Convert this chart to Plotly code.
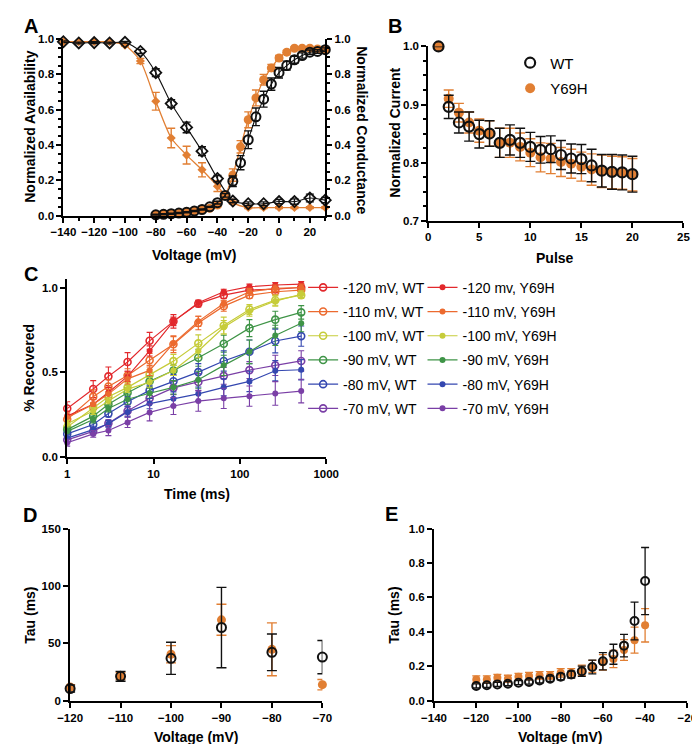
import plotly.graph_objects as go

W, H = 700, 744
FONT = "Arial, Liberation Sans, sans-serif"
ORANGE = "#E17F33"
BLACK = "#111111"

def px(x):
    return x / W

def py(y):
    return 1 - y / H

# ---------------- Panel A data ----------------
avail_v = [-140, -130, -120, -110, -100, -90, -80, -70, -60, -50, -40, -30, -20, -10, 0, 10, 20, 30]
avail_wt = [0.985, 0.978, 0.98, 0.978, 0.982, 0.93, 0.81, 0.635, 0.50, 0.365, 0.21, 0.083, 0.068, 0.068, 0.08, 0.08, 0.10, 0.088]
avail_wt_err = [0.005, 0.005, 0.005, 0.005, 0.005, 0.012, 0.022, 0.022, 0.03, 0.025, 0.018, 0.01, 0.01, 0.01, 0.012, 0.015, 0.022, 0.015]
avail_y = [0.985, 0.985, 0.985, 0.985, 0.965, 0.876, 0.648, 0.44, 0.343, 0.26, 0.167, 0.074, 0.046, 0.046, 0.046, 0.046, 0.046, 0.046]
avail_y_err = [0.003, 0.003, 0.003, 0.003, 0.005, 0.015, 0.05, 0.055, 0.05, 0.04, 0.03, 0.008, 0.005, 0.005, 0.005, 0.005, 0.005, 0.005]

cond_v = [-80, -75, -70, -65, -60, -55, -50, -45, -40, -35, -30, -25, -20, -15, -10, -5, 0, 5, 10, 15, 20, 25, 30]
cond_wt = [0.005, 0.008, 0.011, 0.015, 0.02, 0.026, 0.035, 0.05, 0.074, 0.115, 0.195, 0.30, 0.43, 0.56, 0.66, 0.745, 0.81, 0.85, 0.883, 0.907, 0.926, 0.93, 0.94]
cond_wt_err = [0.003, 0.003, 0.003, 0.003, 0.003, 0.003, 0.003, 0.003, 0.008, 0.01, 0.03, 0.04, 0.05, 0.05, 0.045, 0.035, 0.03, 0.025, 0.02, 0.015, 0.012, 0.01, 0.01]
cond_y = [0.005, 0.01, 0.013, 0.017, 0.022, 0.028, 0.033, 0.042, 0.06, 0.115, 0.23, 0.39, 0.543, 0.667, 0.77, 0.837, 0.893, 0.926, 0.948, 0.948, 0.948, 0.944, 0.94]
cond_y_err = [0.003, 0.003, 0.003, 0.003, 0.003, 0.003, 0.003, 0.003, 0.01, 0.01, 0.035, 0.035, 0.045, 0.045, 0.03, 0.02, 0.015, 0.01, 0.008, 0.005, 0.005, 0.005, 0.005]

# ---------------- Panel B data ----------------
pulse = list(range(1, 21))
pulse_wt = [1.0, 0.896, 0.869, 0.862, 0.849, 0.85, 0.834, 0.839, 0.834, 0.827, 0.822, 0.823, 0.813, 0.807, 0.806, 0.795, 0.786, 0.784, 0.783, 0.78]
pulse_wt_err = [0.0, 0.02, 0.018, 0.025, 0.024, 0.022, 0.025, 0.026, 0.025, 0.025, 0.023, 0.023, 0.025, 0.025, 0.025, 0.028, 0.028, 0.03, 0.03, 0.031]
pulse_y = [1.0, 0.91, 0.886, 0.869, 0.855, 0.85, 0.834, 0.834, 0.827, 0.817, 0.809, 0.807, 0.801, 0.798, 0.793, 0.788, 0.785, 0.783, 0.782, 0.779]
pulse_y_err = [0.0, 0.015, 0.016, 0.018, 0.02, 0.022, 0.025, 0.025, 0.024, 0.024, 0.025, 0.026, 0.025, 0.025, 0.025, 0.027, 0.028, 0.028, 0.028, 0.028]

# ---------------- Panel C data ----------------
rec_t = [1, 2, 3, 5, 9, 17, 33, 65, 129, 257, 513]
rec_wt_120 = [0.285, 0.40, 0.475, 0.56, 0.685, 0.80, 0.905, 0.955, 0.985, 0.99, 1.0]
rec_y_120 = [0.24, 0.31, 0.38, 0.475, 0.625, 0.80, 0.91, 0.975, 1.005, 1.015, 1.02]
rec_wt_110 = [0.222, 0.355, 0.415, 0.48, 0.57, 0.665, 0.79, 0.89, 0.955, 0.975, 0.985]
rec_y_110 = [0.23, 0.31, 0.37, 0.46, 0.51, 0.67, 0.80, 0.905, 0.975, 0.995, 1.0]
rec_wt_100 = [0.175, 0.29, 0.355, 0.41, 0.485, 0.565, 0.67, 0.775, 0.87, 0.925, 0.955]
rec_y_100 = [0.195, 0.27, 0.33, 0.40, 0.44, 0.51, 0.625, 0.765, 0.86, 0.92, 0.96]
rec_wt_90 = [0.16, 0.24, 0.31, 0.378, 0.446, 0.51, 0.585, 0.668, 0.76, 0.81, 0.853]
rec_y_90 = [0.15, 0.22, 0.285, 0.34, 0.375, 0.41, 0.455, 0.54, 0.62, 0.717, 0.789]
rec_wt_80 = [0.135, 0.19, 0.255, 0.325, 0.392, 0.446, 0.50, 0.566, 0.62, 0.684, 0.713]
rec_y_80 = [0.11, 0.16, 0.195, 0.265, 0.314, 0.343, 0.372, 0.41, 0.445, 0.508, 0.514]
rec_wt_70 = [0.10, 0.15, 0.198, 0.27, 0.345, 0.407, 0.442, 0.478, 0.512, 0.54, 0.566]
rec_y_70 = [0.083, 0.135, 0.155, 0.203, 0.262, 0.30, 0.329, 0.345, 0.358, 0.374, 0.388]

err_wt_120 = [0.04, 0.05, 0.055, 0.055, 0.05, 0.04, 0.02, 0.02, 0.02, 0.02, 0.02]
err_y_120 = [0.03, 0.03, 0.03, 0.03, 0.03, 0.025, 0.015, 0.015, 0.015, 0.015, 0.015]
err_wt_110 = [0.03, 0.04, 0.04, 0.04, 0.04, 0.05, 0.04, 0.03, 0.02, 0.02, 0.02]
err_y_110 = [0.03, 0.03, 0.03, 0.03, 0.03, 0.04, 0.03, 0.02, 0.02, 0.02, 0.02]
err_wt_100 = [0.03, 0.03, 0.03, 0.03, 0.03, 0.04, 0.05, 0.05, 0.03, 0.03, 0.02]
err_y_100 = [0.02, 0.02, 0.02, 0.02, 0.03, 0.03, 0.04, 0.04, 0.03, 0.03, 0.02]
err_wt_90 = [0.02, 0.02, 0.02, 0.03, 0.03, 0.03, 0.05, 0.05, 0.05, 0.05, 0.04]
err_y_90 = [0.02, 0.02, 0.02, 0.03, 0.03, 0.04, 0.05, 0.06, 0.07, 0.06, 0.05]
err_wt_80 = [0.02, 0.02, 0.02, 0.03, 0.03, 0.04, 0.05, 0.06, 0.07, 0.07, 0.06]
err_y_80 = [0.02, 0.02, 0.02, 0.03, 0.03, 0.04, 0.04, 0.05, 0.06, 0.06, 0.06]
err_wt_70 = [0.02, 0.02, 0.02, 0.03, 0.03, 0.04, 0.05, 0.05, 0.05, 0.06, 0.06]
err_y_70 = [0.02, 0.02, 0.03, 0.03, 0.05, 0.05, 0.06, 0.06, 0.06, 0.07, 0.07]

rec_labels_wt = ["-120 mV, WT", "-110 mV, WT", "-100 mV, WT", "-90 mV, WT", "-80 mV, WT", "-70 mV, WT"]
rec_labels_y = ["-120 mv, Y69H", "-110 mV, Y69H", "-100 mV, Y69H", "-90 mV, Y69H", "-80 mV, Y69H", "-70 mV, Y69H"]
rec_colors = ["#E2282C", "#EC6A2F", "#C6CC3A", "#3F9447", "#3447B0", "#7A3FA6"]

# ---------------- Panel D data ----------------
tau_rec_v = [-120, -110, -100, -90, -80, -70]
tau_rec_wt = [10.6, 21.3, 37.0, 63.8, 42.2, 38.0]
tau_rec_wt_err = [3.0, 4.3, 14.0, 35.0, 16.0, 14.5]
tau_rec_y = [12.0, 21.5, 40.5, 70.5, 44.8, 14.0]
tau_rec_y_err = [2.0, 3.0, 7.5, 13.5, 23.0, 4.5]

# ---------------- Panel E data ----------------
tau_v = [-120, -115, -110, -105, -100, -95, -90, -85, -80, -75, -70, -65, -60, -55, -50, -45, -40]
tau_wt = [0.086, 0.09, 0.095, 0.099, 0.105, 0.109, 0.118, 0.128, 0.139, 0.152, 0.171, 0.196, 0.229, 0.27, 0.32, 0.463, 0.695]
tau_wt_err = [0.012, 0.012, 0.012, 0.012, 0.012, 0.012, 0.015, 0.015, 0.018, 0.02, 0.03, 0.04, 0.05, 0.058, 0.065, 0.11, 0.195]
tau_y = [0.124, 0.124, 0.133, 0.128, 0.139, 0.143, 0.147, 0.147, 0.162, 0.162, 0.177, 0.20, 0.223, 0.242, 0.295, 0.352, 0.438]
tau_y_err = [0.02, 0.02, 0.02, 0.02, 0.02, 0.022, 0.022, 0.022, 0.025, 0.025, 0.03, 0.035, 0.045, 0.05, 0.06, 0.075, 0.097]

fig = go.Figure()

def eb(arr, color, width=4, thick=1.4):
    return dict(type="data", array=arr, color=color, thickness=thick, width=width, visible=True)

# ---- A ----
fig.add_trace(go.Scatter(x=avail_v, y=avail_y, mode="lines+markers", xaxis="x", yaxis="y",
                         line=dict(color=ORANGE, width=1.3, shape="spline", smoothing=0.7),
                         marker=dict(symbol="diamond", size=7, color=ORANGE),
                         error_y=eb(avail_y_err, ORANGE), showlegend=False, cliponaxis=False))
fig.add_trace(go.Scatter(x=avail_v, y=avail_wt, mode="lines+markers", xaxis="x", yaxis="y",
                         line=dict(color=BLACK, width=1.1, shape="spline", smoothing=0.7),
                         marker=dict(symbol="diamond-open", size=8.5, color=BLACK, line=dict(width=1.8)),
                         error_y=eb(avail_wt_err, BLACK), showlegend=False, cliponaxis=False))
fig.add_trace(go.Scatter(x=cond_v, y=cond_y, mode="lines+markers", xaxis="x", yaxis="y2",
                         line=dict(color=ORANGE, width=1.3, shape="spline", smoothing=0.7),
                         marker=dict(symbol="circle", size=9, color=ORANGE),
                         error_y=eb(cond_y_err, ORANGE), showlegend=False, cliponaxis=False))
fig.add_trace(go.Scatter(x=cond_v, y=cond_wt, mode="lines+markers", xaxis="x", yaxis="y2",
                         line=dict(color=BLACK, width=1.1, shape="spline", smoothing=0.7),
                         marker=dict(symbol="circle-open", size=9, color=BLACK, line=dict(width=2)),
                         error_y=eb(cond_wt_err, BLACK), showlegend=False, cliponaxis=False))

# ---- B ----
fig.add_trace(go.Scatter(x=pulse, y=pulse_y, mode="markers", xaxis="x2", yaxis="y3", name="Y69H",
                         marker=dict(symbol="circle", size=10, color=ORANGE),
                         error_y=eb(pulse_y_err, ORANGE, 5, 1.4), legend="legend3", legendgroup="b2",
                         legendrank=2, cliponaxis=False))
fig.add_trace(go.Scatter(x=pulse, y=pulse_wt, mode="markers", xaxis="x2", yaxis="y3", name="WT",
                         marker=dict(symbol="circle-open", size=10, color=BLACK, line=dict(width=2.2)),
                         error_y=eb(pulse_wt_err, BLACK, 5, 1.4), legend="legend3", legendgroup="b1",
                         legendrank=1, cliponaxis=False))

# ---- C ----
wt_series = [rec_wt_120, rec_wt_110, rec_wt_100, rec_wt_90, rec_wt_80, rec_wt_70]
y_series = [rec_y_120, rec_y_110, rec_y_100, rec_y_90, rec_y_80, rec_y_70]
wt_errs = [err_wt_120, err_wt_110, err_wt_100, err_wt_90, err_wt_80, err_wt_70]
y_errs = [err_y_120, err_y_110, err_y_100, err_y_90, err_y_80, err_y_70]
for i in range(6):
    c = rec_colors[i]
    fig.add_trace(go.Scatter(x=rec_t, y=wt_series[i], mode="lines+markers", xaxis="x3", yaxis="y4",
                             name=rec_labels_wt[i], legend="legend", legendgroup="w%d" % i,
                             legendrank=i + 1,
                             line=dict(color=c, width=1.2),
                             marker=dict(symbol="circle-open", size=7, color=c, line=dict(width=1.6)),
                             error_y=eb(wt_errs[i], c, 3, 1.1), cliponaxis=False))
for i in range(6):
    c = rec_colors[i]
    fig.add_trace(go.Scatter(x=rec_t, y=y_series[i], mode="lines+markers", xaxis="x3", yaxis="y4",
                             name=rec_labels_y[i], legend="legend2", legendgroup="y%d" % i,
                             legendrank=i + 1,
                             line=dict(color=c, width=1.2),
                             marker=dict(symbol="circle", size=6, color=c),
                             error_y=eb(y_errs[i], c, 3, 1.1), cliponaxis=False))

# ---- D ----
fig.add_trace(go.Scatter(x=tau_rec_v, y=tau_rec_y, mode="markers", xaxis="x4", yaxis="y5",
                         marker=dict(symbol="circle", size=9, color=ORANGE),
                         error_y=eb(tau_rec_y_err, ORANGE, 5, 1.4), showlegend=False, cliponaxis=False))
fig.add_trace(go.Scatter(x=tau_rec_v, y=tau_rec_wt, mode="markers", xaxis="x4", yaxis="y5",
                         marker=dict(symbol="circle-open", size=9, color=BLACK, line=dict(width=2)),
                         error_y=eb(tau_rec_wt_err, BLACK, 5, 1.4), showlegend=False, cliponaxis=False))

# ---- E ----
fig.add_trace(go.Scatter(x=tau_v, y=tau_y, mode="markers", xaxis="x5", yaxis="y6",
                         marker=dict(symbol="circle", size=8, color=ORANGE),
                         error_y=eb(tau_y_err, ORANGE, 4, 1.3), showlegend=False, cliponaxis=False))
fig.add_trace(go.Scatter(x=tau_v, y=tau_wt, mode="markers", xaxis="x5", yaxis="y6",
                         marker=dict(symbol="circle-open", size=8, color=BLACK, line=dict(width=2)),
                         error_y=eb(tau_wt_err, BLACK, 4, 1.3), showlegend=False, cliponaxis=False))

TICKFONT = dict(family=FONT, size=11.5, color="black", weight="bold")

def axis(domain, rng, anchor, **kw):
    d = dict(domain=domain, range=rng, anchor=anchor, showline=True, linecolor="black", linewidth=2,
             ticks="outside", ticklen=5, tickwidth=2, tickcolor="black", showgrid=False, zeroline=False,
             tickfont=TICKFONT, fixedrange=True)
    d.update(kw)
    return d

MINOR = lambda dt: dict(dtick=dt, ticks="outside", ticklen=3, tickwidth=1.5, tickcolor="black", showgrid=False)

fig.update_layout(
    width=W, height=H, margin=dict(l=0, r=0, t=0, b=0),
    paper_bgcolor="white", plot_bgcolor="white",
    font=dict(family=FONT, color="black"),
    xaxis=axis([px(44), px(316)], [-140, 30], "y", dtick=20, tick0=-140, minor=MINOR(10)),
    yaxis=axis([py(205), py(25.5)], [0, 1], "x", dtick=0.2, tickformat=".1f", minor=MINOR(0.05)),
    yaxis2=axis([py(205), py(25.5)], [0, 1], "x", dtick=0.2, tickformat=".1f", minor=MINOR(0.05),
                overlaying="y", side="right"),
    xaxis2=axis([px(423), px(688)], [0, 25], "y3", dtick=5),
    yaxis3=axis([py(210), py(33)], [0.7, 1.0], "x2", dtick=0.1, tickformat=".1f", minor=MINOR(0.025)),
    xaxis3=axis([px(48), px(317)], [0, 3], "y4", type="log", tickvals=[1, 10, 100, 1000],
                ticktext=["1", "10", "100", "1000"]),
    yaxis4=axis([py(450), py(269.4)], [0, 1.05], "x3", tickvals=[0, 0.5, 1.0], ticktext=["0.0", "0.5", "1.0"]),
    xaxis4=axis([px(51), px(313)], [-120, -70], "y5", dtick=10),
    yaxis5=axis([py(698), py(523)], [0, 150], "x4", dtick=50),
    xaxis5=axis([px(429), px(692)], [-140, -20], "y6", dtick=20),
    yaxis6=axis([py(698), py(523)], [0, 1.0], "x5", dtick=0.2, tickformat=".1f"),
    legend=dict(x=px(293), y=py(262), xanchor="left", yanchor="top", bgcolor="rgba(0,0,0,0)",
                font=dict(family=FONT, size=14, color="black"), tracegroupgap=3, itemwidth=30,
                traceorder="grouped"),
    legend2=dict(x=px(417), y=py(262), xanchor="left", yanchor="top", bgcolor="rgba(0,0,0,0)",
                 font=dict(family=FONT, size=14, color="black"), tracegroupgap=3, itemwidth=30,
                 traceorder="grouped"),
    legend3=dict(x=px(508), y=py(33), xanchor="left", yanchor="top", bgcolor="rgba(0,0,0,0)",
                 font=dict(family=FONT, size=15, color="black"), tracegroupgap=3, itemwidth=30,
                 traceorder="grouped"),
)

TITLEFONT = dict(family=FONT, size=14, color="black", weight="bold")
LABELFONT = dict(family=FONT, size=20, color="black", weight="bold")

def ann(text, x, y, font, angle=0, xa="center", ya="middle"):
    fig.add_annotation(text=text, x=px(x), y=py(y), xref="paper", yref="paper", showarrow=False,
                       font=font, textangle=angle, xanchor=xa, yanchor=ya)

# axis titles
ann("Voltage (mV)", 180, 245, TITLEFONT)
ann("Normalized Availability", 10, 115, TITLEFONT, -90)
ann("Normalized Conductance", 354, 118, TITLEFONT, 90)
ann("Pulse", 555, 248, TITLEFONT)
ann("Normalized Current", 388, 121, TITLEFONT, -90)
ann("Time (ms)", 183, 488, TITLEFONT)
ann("% Recovered", 9, 360, TITLEFONT, -90)
ann("Voltage (mV)", 182, 735, TITLEFONT)
ann("Tau (ms)", 10, 611, TITLEFONT, -90)
ann("Voltage (mV)", 560, 735, TITLEFONT)
ann("Tau (ms)", 388, 611, TITLEFONT, -90)

# panel letters
ann("A", 10, 12, LABELFONT)
ann("B", 388, 12, LABELFONT)
ann("C", 10, 264, LABELFONT)
ann("D", 9, 509, LABELFONT)
ann("E", 385, 508, LABELFONT)

fig.write_html("out.html")
